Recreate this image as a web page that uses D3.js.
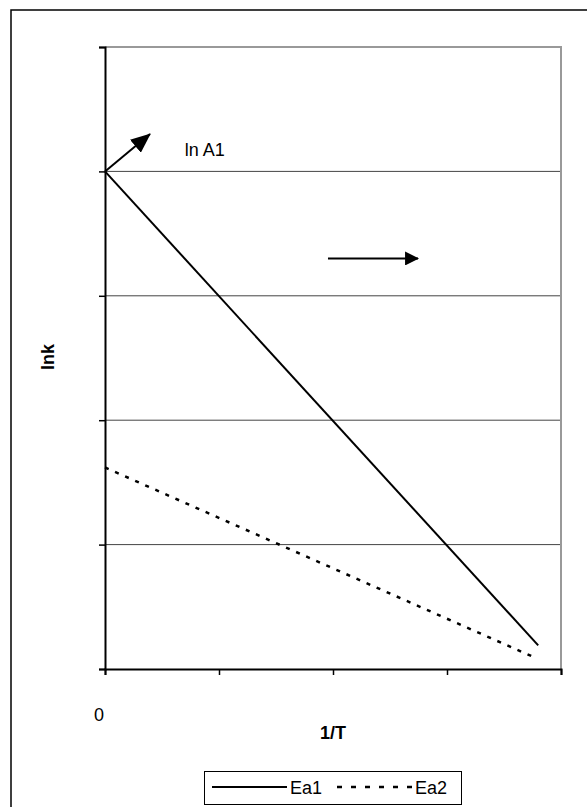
<!DOCTYPE html>
<html><head><meta charset="utf-8">
<script src="https://cdn.jsdelivr.net/npm/d3@7"></script>
<style>body{margin:0;background:#fff;} text{font-family:"Liberation Sans",Arial,sans-serif;}</style>
</head><body>
<svg id="c" width="587" height="807"></svg>
<script>
const xTicks = [0, 1, 2, 3, 4];
const yTicks = [0, 1, 2, 3, 4, 5];
const ea1X = [0, 3.8];
const ea1Y = [4, 0.19];
const ea2X = [0, 3.75];
const ea2Y = [1.62, 0.10];
const seriesNames = ["Ea1", "Ea2"];
const xTitle = "1/T", yTitle = "lnk", originLabel = "0", annLabel = "ln A1";

const svg = d3.select("#c");
svg.append("rect").attr("x",11).attr("y",10).attr("width",620).attr("height",820)
  .attr("fill","#fff").attr("stroke","#000").attr("stroke-width",1.5);

const x = d3.scaleLinear().domain([0,4]).range([105,561]);
const y = d3.scaleLinear().domain([0,5]).range([669,47]);

const defs = svg.append("defs");
defs.append("marker").attr("id","ah1").attr("viewBox","0 0 20 17").attr("refX",19).attr("refY",8.5)
  .attr("markerWidth",20).attr("markerHeight",17).attr("markerUnits","userSpaceOnUse").attr("orient","auto")
  .append("path").attr("d","M0,0L20,8.5L0,17Z").attr("fill","#000");
defs.append("marker").attr("id","ah2").attr("viewBox","0 0 14 14").attr("refX",13).attr("refY",7)
  .attr("markerWidth",14).attr("markerHeight",14).attr("markerUnits","userSpaceOnUse").attr("orient","auto")
  .append("path").attr("d","M0,0L14,7L0,14Z").attr("fill","#000");

// gridlines
svg.append("g").selectAll("line").data(yTicks.filter(d=>d>0 && d<5)).join("line")
  .attr("x1",x(0)).attr("x2",x(4)).attr("y1",d=>y(d)).attr("y2",d=>y(d))
  .attr("stroke","#444").attr("stroke-width",1);
// plot border top/right
svg.append("path").attr("d",`M${x(0)},${y(5)}H${x(4)}V${y(0)}`).attr("fill","none")
  .attr("stroke","#999").attr("stroke-width",2);

// axes
const xa = svg.append("g").attr("transform",`translate(0,${y(0)})`)
  .call(d3.axisBottom(x).tickValues(xTicks).tickSize(6).tickFormat(""));
const ya = svg.append("g").attr("transform",`translate(${x(0)},0)`)
  .call(d3.axisLeft(y).tickValues(yTicks).tickSize(6).tickFormat(""));
[xa,ya].forEach(g=>{g.select(".domain").attr("stroke","#000").attr("stroke-width",2);
  g.selectAll(".tick line").attr("stroke","#000").attr("stroke-width",1.5);});

// series
const line = d3.line().x(d=>x(d[0])).y(d=>y(d[1]));
svg.append("path").attr("d",line(d3.zip(ea1X,ea1Y))).attr("fill","none").attr("stroke","#000").attr("stroke-width",2);
svg.append("path").attr("d",line(d3.zip(ea2X,ea2Y))).attr("fill","none").attr("stroke","#000").attr("stroke-width",2.5)
  .attr("stroke-dasharray","4,7");

// annotations
svg.append("line").attr("x1",x(0)).attr("y1",y(4)).attr("x2",x(0.395)).attr("y2",y(4.3))
  .attr("stroke","#000").attr("stroke-width",2).attr("marker-end","url(#ah1)");
svg.append("line").attr("x1",x(1.956)).attr("y1",y(3.30)).attr("x2",x(2.746)).attr("y2",y(3.30))
  .attr("stroke","#000").attr("stroke-width",2).attr("marker-end","url(#ah2)");
svg.append("text").attr("x",x(0.70)).attr("y",y(4.12)).attr("font-size",18).text(annLabel);

// axis labels
svg.append("text").attr("x",x(0)-6).attr("y",721).attr("text-anchor","middle").attr("font-size",18).text(originLabel);
svg.append("text").attr("x",x(2)).attr("y",739).attr("text-anchor","middle").attr("font-size",18).attr("font-weight","bold").text(xTitle);
svg.append("text").attr("transform","translate(54,357) rotate(-90)").attr("text-anchor","middle")
  .attr("font-size",18).attr("font-weight","bold").text(yTitle);

// legend
const lg = svg.append("g");
lg.append("rect").attr("x",204.5).attr("y",771.5).attr("width",257).attr("height",33)
  .attr("fill","#fff").attr("stroke","#000").attr("stroke-width",1);
lg.append("line").attr("x1",212).attr("x2",287).attr("y1",787).attr("y2",787).attr("stroke","#000").attr("stroke-width",2);
lg.append("text").attr("x",290).attr("y",794).attr("font-size",18).text(seriesNames[0]);
lg.append("line").attr("x1",337).attr("x2",414).attr("y1",787).attr("y2",787).attr("stroke","#000").attr("stroke-width",2.5)
  .attr("stroke-dasharray","5,9");
lg.append("text").attr("x",415).attr("y",794).attr("font-size",18).text(seriesNames[1]);
</script>
</body></html>
